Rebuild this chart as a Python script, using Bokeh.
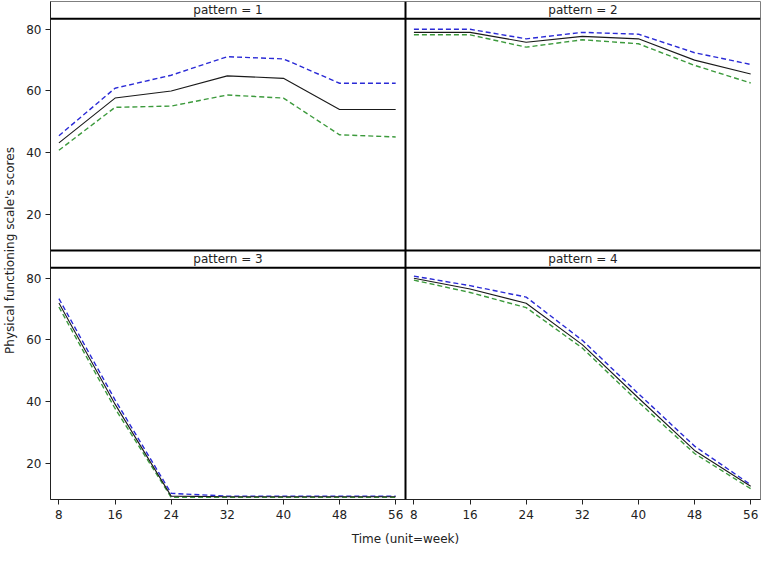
from bokeh.plotting import figure
from bokeh.models import Range1d, LinearAxis, FixedTicker, CustomJSTickFormatter, Span, Label
from bokeh.embed import file_html
from bokeh.resources import INLINE

# ---------------- data ----------------
weeks = [8, 16, 24, 32, 40, 48, 56]
x_ticks = [8, 16, 24, 32, 40, 48, 56]
y_ticks = [20, 40, 60, 80]
panel_titles = ["pattern = 1", "pattern = 2", "pattern = 3", "pattern = 4"]

p1_mean = [43.2, 57.7, 60.0, 64.9, 64.1, 54.0, 54.0]
p1_upper = [45.5, 60.9, 65.1, 71.1, 70.4, 62.5, 62.5]
p1_lower = [40.8, 54.7, 55.1, 58.7, 57.7, 45.8, 45.1]

p2_mean = [79.0, 79.0, 75.8, 77.7, 76.9, 70.0, 65.5]
p2_upper = [80.0, 80.0, 76.9, 79.0, 78.4, 72.4, 68.6]
p2_lower = [78.2, 78.2, 74.2, 76.6, 75.3, 68.3, 62.6]

p3_mean = [72.0, 39.2, 9.4, 9.2, 9.2, 9.2, 9.2]
p3_upper = [73.4, 40.6, 10.3, 9.4, 9.4, 9.4, 9.4]
p3_lower = [70.7, 37.8, 9.0, 9.0, 9.0, 9.0, 9.0]

p4_mean = [80.0, 76.5, 71.9, 58.5, 41.2, 24.2, 12.6]
p4_upper = [80.7, 77.6, 73.9, 59.9, 42.6, 25.6, 13.1]
p4_lower = [79.4, 75.4, 70.5, 57.4, 39.9, 23.2, 11.8]

panels = [
    (p1_mean, p1_upper, p1_lower),
    (p2_mean, p2_upper, p2_lower),
    (p3_mean, p3_upper, p3_lower),
    (p4_mean, p4_upper, p4_lower),
]

# ---------------- panel geometry (data units) ----------------
X_LO, X_HI = 6.8, 57.4            # x extent of one panel column
COL_W = X_HI - X_LO
Y_LO, Y_DATA_HI, Y_ROW_HI = 8.3, 83.4, 89.0   # data area, then strip header
ROW_H = Y_ROW_HI - Y_LO

FONT = "DejaVu Sans"

p = figure(width=762, height=548, output_backend="svg", toolbar_location=None,
           x_range=Range1d(X_LO, X_HI + COL_W), y_range=Range1d(Y_LO, Y_LO + 2 * ROW_H),
           x_axis_type=None, y_axis_type=None,
           min_border_left=0, min_border_right=2, min_border_top=1, min_border_bottom=0)
p.grid.visible = False
p.outline_line_color = "#7f7f7f"
p.outline_line_width = 1
p.background_fill_color = "white"

# extra ranges: columns (left / right) and rows (top / bottom)
p.extra_x_ranges = {"c0": Range1d(X_LO, X_HI + COL_W),
                    "c1": Range1d(X_LO - COL_W, X_HI)}
p.extra_y_ranges = {"r1": Range1d(Y_LO, Y_LO + 2 * ROW_H),
                    "r0": Range1d(Y_LO - ROW_H, Y_ROW_HI)}

# ---------------- axes ----------------
xt_all = x_ticks + [t + COL_W for t in x_ticks]
yt_all = y_ticks + [t + ROW_H for t in y_ticks]

xaxis = LinearAxis(ticker=FixedTicker(ticks=xt_all),
                   formatter=CustomJSTickFormatter(args=dict(lim=X_HI, off=COL_W),
                       code="return String(Math.round(tick > lim ? tick - off : tick));"),
                   axis_label="Time (unit=week)")
yaxis = LinearAxis(ticker=FixedTicker(ticks=yt_all),
                   formatter=CustomJSTickFormatter(args=dict(lim=Y_ROW_HI, off=ROW_H),
                       code="return String(Math.round(tick > lim ? tick - off : tick));"),
                   axis_label="Physical functioning scale's scores")
for ax in (xaxis, yaxis):
    ax.minor_tick_line_color = None
    ax.major_tick_out = 5
    ax.major_tick_in = 0
    ax.major_tick_line_color = "#222222"
    ax.axis_line_color = "#222222"
    ax.major_label_text_font = FONT
    ax.major_label_text_font_size = "12px"
    ax.major_label_text_color = "#222222"
    ax.axis_label_text_font = FONT
    ax.axis_label_text_font_size = "12px"
    ax.axis_label_text_font_style = "normal"
    ax.axis_label_text_color = "#222222"
xaxis.major_label_standoff = 5
xaxis.axis_label_standoff = 10
yaxis.major_label_standoff = 4
yaxis.axis_label_standoff = 6
p.add_layout(xaxis, "below")
p.add_layout(yaxis, "left")

# ---------------- panel frames / strips ----------------
sep = dict(line_color="black", line_width=2)
p.add_layout(Span(location=X_HI, dimension="height", **sep))                 # column divider
p.add_layout(Span(location=Y_ROW_HI, dimension="width", **sep))              # row divider
p.add_layout(Span(location=Y_DATA_HI, dimension="width", **sep))             # bottom strip
p.add_layout(Span(location=Y_DATA_HI + ROW_H, dimension="width", **sep))     # top strip

# ---------------- series ----------------
col_names = ["c0", "c1", "c0", "c1"]
row_names = ["r0", "r0", "r1", "r1"]
for i, (mean, upper, lower) in enumerate(panels):
    xr, yr = col_names[i], row_names[i]
    p.line(weeks, upper, x_range_name=xr, y_range_name=yr,
           line_color="#2a2ad6", line_width=1.4, line_dash="5 3")
    p.line(weeks, lower, x_range_name=xr, y_range_name=yr,
           line_color="#3c9a3c", line_width=1.4, line_dash="5 3")
    p.line(weeks, mean, x_range_name=xr, y_range_name=yr,
           line_color="#1a1a1a", line_width=1.1)
    p.add_layout(Label(x=(X_LO + X_HI) / 2, y=(Y_DATA_HI + Y_ROW_HI) / 2,
                       x_range_name=xr, y_range_name=yr,
                       text=panel_titles[i], text_align="center", text_baseline="middle",
                       text_font=FONT, text_font_size="12px", text_color="#222222"))

open("out.html", "w").write(file_html(p, INLINE))
